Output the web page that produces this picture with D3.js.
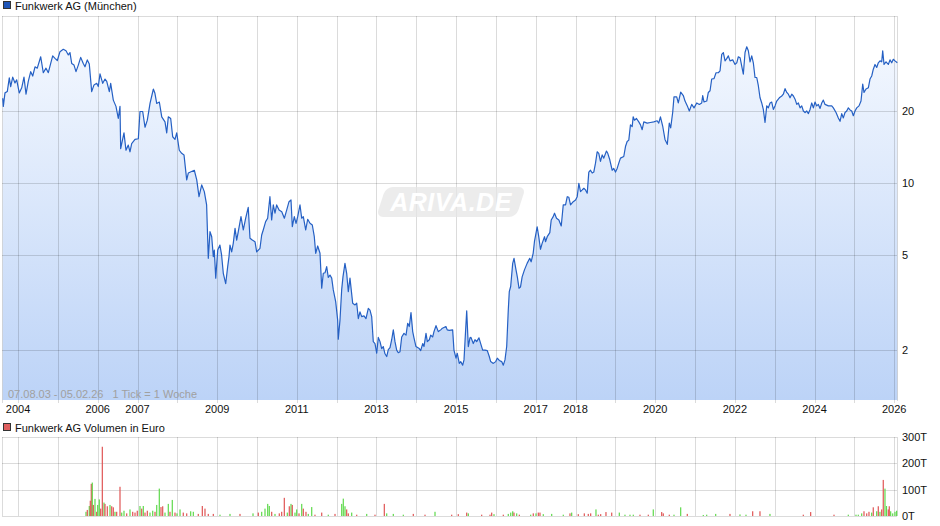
<!DOCTYPE html>
<html>
<head>
<meta charset="utf-8">
<script src="https://cdn.jsdelivr.net/npm/d3@7"></script>
<style>
  body { margin: 0; background: #fff; }
  svg { display: block; font-family: "Liberation Sans", Arial, sans-serif; }
</style>
</head>
<body>
<svg id="chart" width="940" height="526"></svg>
<script>
// weekly close (decimal year, EUR)
var priceT = [2003.615,2003.630,2003.672,2003.730,2003.780,2003.815,2003.866,2003.923,2003.966,2004.031,2004.092,2004.149,2004.200,2004.257,2004.318,2004.368,2004.426,2004.483,2004.569,2004.634,2004.702,2004.760,2004.820,2004.870,2004.928,2004.986,2005.053,2005.136,2005.204,2005.262,2005.304,2005.347,2005.405,2005.455,2005.513,2005.573,2005.638,2005.681,2005.739,2005.789,2005.849,2005.907,2005.975,2006.015,2006.058,2006.126,2006.184,2006.227,2006.292,2006.326,2006.392,2006.459,2006.517,2006.560,2006.577,2006.660,2006.710,2006.768,2006.811,2006.853,2006.937,2007.020,2007.062,2007.130,2007.188,2007.246,2007.314,2007.357,2007.397,2007.437,2007.482,2007.548,2007.608,2007.690,2007.733,2007.773,2007.833,2007.883,2007.941,2007.984,2008.049,2008.109,2008.167,2008.235,2008.275,2008.426,2008.487,2008.544,2008.612,2008.677,2008.735,2008.777,2008.820,2008.863,2008.903,2008.928,2008.964,2009.014,2009.069,2009.111,2009.154,2009.214,2009.264,2009.297,2009.322,2009.364,2009.404,2009.449,2009.490,2009.530,2009.598,2009.656,2009.716,2009.780,2009.824,2009.882,2009.950,2009.992,2010.075,2010.118,2010.157,2010.217,2010.268,2010.325,2010.368,2010.409,2010.452,2010.494,2010.554,2010.622,2010.687,2010.747,2010.804,2010.854,2010.887,2010.937,2010.980,2011.022,2011.080,2011.123,2011.163,2011.223,2011.273,2011.331,2011.389,2011.439,2011.474,2011.524,2011.582,2011.607,2011.625,2011.665,2011.708,2011.750,2011.790,2011.833,2011.876,2011.916,2011.976,2012.026,2012.041,2012.084,2012.126,2012.159,2012.209,2012.252,2012.293,2012.335,2012.403,2012.461,2012.504,2012.544,2012.586,2012.629,2012.687,2012.737,2012.795,2012.837,2012.880,2012.920,2012.963,2013.006,2013.046,2013.089,2013.131,2013.171,2013.214,2013.257,2013.297,2013.340,2013.382,2013.423,2013.465,2013.508,2013.548,2013.591,2013.634,2013.691,2013.742,2013.784,2013.824,2013.867,2013.910,2013.942,2013.992,2014.075,2014.110,2014.161,2014.194,2014.244,2014.277,2014.327,2014.362,2014.412,2014.444,2014.495,2014.553,2014.613,2014.656,2014.744,2014.777,2014.827,2014.913,2014.946,2014.997,2015.029,2015.080,2015.115,2015.165,2015.198,2015.223,2015.266,2015.306,2015.348,2015.373,2015.431,2015.474,2015.516,2015.574,2015.617,2015.667,2015.725,2015.783,2015.833,2015.868,2015.934,2015.994,2016.034,2016.085,2016.145,2016.185,2016.227,2016.270,2016.310,2016.335,2016.370,2016.421,2016.454,2016.496,2016.537,2016.579,2016.616,2016.658,2016.716,2016.783,2016.849,2016.884,2016.935,2016.967,2017.035,2017.075,2017.118,2017.160,2017.220,2017.245,2017.288,2017.353,2017.388,2017.438,2017.471,2017.521,2017.580,2017.640,2017.690,2017.748,2017.791,2017.831,2017.873,2017.941,2017.999,2018.041,2018.082,2018.124,2018.167,2018.207,2018.249,2018.292,2018.332,2018.374,2018.417,2018.457,2018.500,2018.542,2018.582,2018.625,2018.668,2018.708,2018.775,2018.808,2018.859,2018.919,2018.959,2019.002,2019.044,2019.085,2019.127,2019.210,2019.253,2019.295,2019.336,2019.378,2019.421,2019.446,2019.479,2019.529,2019.587,2019.630,2019.672,2019.713,2019.798,2019.880,2019.963,2020.048,2020.088,2020.131,2020.187,2020.245,2020.303,2020.353,2020.388,2020.438,2020.471,2020.539,2020.579,2020.639,2020.705,2020.748,2020.806,2020.856,2020.916,2020.974,2021.042,2021.107,2021.167,2021.192,2021.225,2021.293,2021.333,2021.376,2021.418,2021.476,2021.527,2021.584,2021.627,2021.670,2021.710,2021.753,2021.795,2021.836,2021.878,2021.946,2022.004,2022.047,2022.087,2022.130,2022.172,2022.212,2022.255,2022.298,2022.338,2022.381,2022.423,2022.463,2022.506,2022.549,2022.589,2022.632,2022.674,2022.714,2022.757,2022.800,2022.840,2022.883,2022.925,2022.966,2023.008,2023.051,2023.116,2023.177,2023.217,2023.260,2023.302,2023.343,2023.385,2023.428,2023.469,2023.511,2023.554,2023.594,2023.637,2023.679,2023.720,2023.763,2023.805,2023.846,2023.888,2023.930,2023.971,2024.013,2024.055,2024.096,2024.139,2024.181,2024.221,2024.264,2024.347,2024.432,2024.473,2024.540,2024.598,2024.641,2024.683,2024.723,2024.766,2024.808,2024.849,2024.891,2024.934,2024.974,2025.017,2025.059,2025.117,2025.167,2025.210,2025.242,2025.293,2025.351,2025.393,2025.436,2025.476,2025.519,2025.561,2025.602,2025.644,2025.687,2025.712,2025.745,2025.795,2025.853,2025.895,2025.938,2025.978,2026.021,2026.078];
var priceV = [22.6,20.9,23.8,24.1,27.5,25.3,27.7,26.2,27.0,23.8,25.0,27.7,23.5,26.6,29.2,28.0,30.6,30.2,33.7,28.9,30.2,28.9,31.6,34.0,33.2,32.5,35.4,36.2,35.7,34.3,35.1,31.6,31.1,29.2,31.1,33.5,31.6,30.6,32.7,31.4,24.1,25.7,26.1,25.3,28.6,26.1,27.2,26.6,24.1,26.1,22.2,20.9,18.6,20.9,13.9,16.2,13.7,14.4,13.5,14.6,15.2,15.3,19.9,19.9,17.1,18.3,21.5,23.1,24.7,23.7,21.5,21.8,18.9,18.0,16.2,18.9,18.6,15.6,15.2,16.2,13.7,13.3,13.1,10.3,11.0,11.3,10.3,8.76,9.81,9.20,8.09,4.84,6.26,5.96,4.92,5.24,4.00,5.24,5.50,5.00,4.19,3.79,4.47,4.92,5.50,5.15,5.59,6.46,5.77,6.26,7.23,6.36,7.12,7.91,5.87,5.77,5.68,5.15,5.33,6.06,6.36,6.89,7.12,8.76,7.00,8.09,7.47,8.09,7.71,7.58,7.12,7.71,8.35,8.49,6.56,7.23,6.78,7.23,8.09,7.12,7.23,6.36,7.05,6.78,6.67,5.96,5.08,5.45,5.08,4.19,3.63,4.19,4.21,4.47,4.03,4.12,4.00,3.57,3.19,2.67,2.22,2.67,3.57,4.05,4.61,4.19,3.51,4.00,3.14,3.09,3.14,2.71,2.89,2.76,2.78,2.71,2.99,2.94,2.76,2.17,2.13,1.94,2.26,2.17,2.03,2.07,1.93,1.88,2.01,2.05,2.21,2.43,2.17,2.00,1.95,1.97,2.27,2.35,2.31,2.59,2.51,2.87,2.39,2.25,2.07,2.03,1.99,2.13,2.07,2.35,2.17,2.21,2.31,2.27,2.39,2.53,2.39,2.43,2.47,2.51,2.43,2.42,2.43,2.00,1.85,1.94,1.76,1.79,1.73,1.82,2.17,2.92,2.07,2.25,2.26,2.13,2.21,2.17,2.25,2.13,2.00,2.00,1.99,1.88,1.79,1.76,1.79,1.85,1.81,1.79,1.73,1.82,2.07,2.94,3.51,3.69,4.61,4.84,4.40,4.05,3.63,3.67,4.05,4.33,4.61,4.84,4.68,5.08,5.68,6.56,5.96,5.28,5.59,5.96,5.68,5.96,6.20,7.00,7.23,7.47,7.12,7.00,6.61,8.09,8.09,8.76,8.71,8.09,8.35,8.49,8.76,9.97,9.20,9.35,9.50,9.35,9.06,11.1,11.3,11.0,11.1,12.1,13.5,13.3,12.3,13.1,12.7,13.6,13.3,12.5,11.3,11.5,11.1,11.5,12.1,12.7,12.9,14.2,14.9,15.1,17.5,17.2,18.9,18.3,18.6,18.0,17.5,16.7,18.0,17.8,17.9,18.0,18.2,17.8,18.9,17.3,15.2,14.5,17.8,17.0,19.7,22.9,22.9,21.6,24.0,23.2,22.0,21.0,20.0,21.3,20.6,21.6,21.3,21.6,23.2,21.8,22.0,23.9,24.3,27.2,27.3,28.9,28.9,29.4,34.5,35.1,32.4,33.1,34.0,32.4,32.7,31.3,31.8,33.7,33.4,30.8,28.5,35.1,37.1,35.7,32.1,34.0,31.8,27.6,27.6,25.5,22.7,21.6,20.3,17.9,21.0,20.6,21.6,21.8,20.3,21.0,22.0,22.7,23.1,23.5,24.8,23.9,23.5,22.7,23.5,23.1,22.4,21.3,21.6,20.6,21.0,20.0,19.7,20.0,19.5,20.3,21.6,20.6,21.8,21.0,21.3,20.5,21.6,22.2,21.3,21.0,21.0,20.6,19.7,18.7,18.1,19.5,18.7,19.7,20.0,20.6,20.2,20.0,19.1,20.0,20.6,21.0,22.0,25.9,23.9,24.7,25.0,27.2,28.0,29.9,31.3,30.4,31.8,32.4,32.1,35.7,31.3,32.1,31.3,32.7,31.8,32.9,32.4,31.8];

// weekly turnover in thousand EUR, u = week closed up, d = down
var volT = [2005.706,2005.739,2005.789,2005.814,2005.839,2005.864,2005.890,2005.932,2005.975,2006.000,2006.040,2006.075,2006.116,2006.158,2006.183,2006.241,2006.309,2006.352,2006.392,2006.434,2006.477,2006.560,2006.603,2006.660,2006.728,2006.811,2006.879,2006.937,2006.994,2007.062,2007.105,2007.145,2007.188,2007.246,2007.313,2007.381,2007.439,2007.482,2007.547,2007.589,2007.632,2007.690,2007.773,2007.815,2007.873,2007.941,2007.991,2008.067,2008.149,2008.235,2008.335,2008.401,2008.526,2008.627,2008.694,2008.777,2008.903,2009.071,2009.322,2009.573,2009.900,2010.033,2010.118,2010.201,2010.269,2010.309,2010.369,2010.452,2010.560,2010.620,2010.686,2010.761,2010.811,2010.854,2010.886,2010.954,2010.997,2011.055,2011.123,2011.163,2011.230,2011.288,2011.374,2011.456,2011.625,2011.790,2011.959,2012.127,2012.167,2012.210,2012.252,2012.293,2012.378,2012.504,2012.755,2012.963,2013.197,2013.257,2013.423,2013.674,2013.925,2014.219,2014.470,2014.889,2015.055,2015.266,2015.306,2015.642,2015.851,2015.893,2015.951,2016.185,2016.310,2016.371,2016.421,2016.453,2016.521,2016.587,2016.873,2016.938,2017.006,2017.064,2017.106,2017.189,2017.400,2017.691,2017.859,2017.902,2018.068,2018.219,2018.319,2018.379,2018.512,2018.570,2018.630,2018.763,2018.907,2019.098,2019.240,2019.366,2019.449,2019.617,2019.826,2019.951,2020.162,2020.202,2020.353,2020.471,2020.639,2020.805,2021.207,2021.292,2021.518,2021.877,2022.128,2022.279,2022.447,2022.630,2022.881,2023.718,2023.903,2024.489,2024.848,2025.041,2025.099,2025.184,2025.242,2025.310,2025.367,2025.435,2025.475,2025.561,2025.601,2025.643,2025.686,2025.726,2025.769,2025.807,2025.852,2025.877,2025.912,2025.963,2026.020,2026.062];
var volV = [16,23,38,58,122,127,42,65,16,42,63,28,263,51,46,37,42,37,33,16,16,111,13,20,10,25,16,13,20,38,28,38,13,20,13,20,16,42,104,34,37,13,46,16,61,13,10,25,13,10,18,16,8,38,28,8,8,5,8,8,10,13,16,28,46,38,16,8,10,16,69,13,37,46,42,13,25,10,46,28,16,8,34,5,13,5,8,46,66,37,25,10,13,5,8,5,46,10,8,5,8,5,16,5,7,13,10,5,5,13,7,5,8,13,18,13,10,5,5,10,10,13,13,7,8,5,10,13,7,10,8,10,25,5,7,15,13,13,5,5,5,5,5,25,15,10,5,5,33,8,4,5,8,8,6,5,18,18,8,5,15,5,5,5,5,10,18,10,16,13,33,18,37,16,25,137,104,38,25,37,18,10,16,20];
var volDir = ("ududdududu" + "uddudduddu" + "dduududddu" + "dudduuduud" + "duududuudd" +
              "uuddddduud" + "uduuuududd" + "dududuudud" + "duudduduuu" + "ddududduuu" +
              "dduddduddd" + "uduuududud" + "udduuududd" + "ddudddduuu" + "udduddduud" +
              "uuuduuddud" + "dduuuudddu" + "dududduudd" + "uuuu").split("");

var yearTicks = d3.range(2004, 2027);
var yearLabels = [2004, 2006, 2007, 2009, 2011, 2013, 2015, 2017, 2018, 2020, 2022, 2024, 2026];
var priceTicks = [2, 5, 10, 20];
var volTicks = [0, 100, 200, 300];

var svg = d3.select("#chart");
var left = 2, right = 897;

var x = d3.scaleLinear().domain([2003.597, 2026.096]).range([2, 898]);
var y = d3.scaleLog().domain([1.237, 49.9]).range([400, 16]);
var yv = d3.scaleLinear().domain([0, 300]).range([516, 437]);

var price = priceT.map(function(t, i) { return {t: t, v: priceV[i]}; });
var vols = volT.map(function(t, i) { return {t: t, v: volV[i], up: volDir[i] == "u"}; });

// gradient for the area
var defs = svg.append("defs");
var grad = defs.append("linearGradient").attr("id", "fillGrad")
    .attr("gradientUnits", "userSpaceOnUse")
    .attr("x1", 0).attr("y1", 16).attr("x2", 0).attr("y2", 400);
grad.append("stop").attr("offset", "0%").attr("stop-color", "#f7faff");
grad.append("stop").attr("offset", "100%").attr("stop-color", "#bcd3f7");

// legends
function legend(yy, col, label) {
  svg.append("rect").attr("x", 3.5).attr("y", yy - 8.5).attr("width", 7).attr("height", 7)
    .attr("fill", col).attr("stroke", "#333").attr("stroke-width", 1);
  svg.append("text").attr("x", 15).attr("y", yy).attr("font-size", 11).attr("fill", "#111").text(label);
}
legend(10, "#1f56b8", "Funkwerk AG (München)");
legend(432, "#e06060", "Funkwerk AG Volumen in Euro");

// price panel
var area = d3.area().x(function(d) { return x(d.t); }).y0(400).y1(function(d) { return y(d.v); });
var line = d3.line().x(function(d) { return x(d.t); }).y(function(d) { return y(d.v); });

svg.append("path").datum(price).attr("d", area).attr("fill", "url(#fillGrad)");

var grid = svg.append("g").attr("stroke", "#000").attr("stroke-opacity", 0.14).attr("stroke-width", 1);
grid.selectAll(".vx").data(yearTicks).enter().append("line")
  .attr("x1", function(d) { return Math.round(x(d)) + 0.5; })
  .attr("x2", function(d) { return Math.round(x(d)) + 0.5; })
  .attr("y1", 16).attr("y2", 403);
grid.selectAll(".hy").data(priceTicks).enter().append("line")
  .attr("x1", left).attr("x2", right)
  .attr("y1", function(d) { return Math.round(y(d)) + 0.5; })
  .attr("y2", function(d) { return Math.round(y(d)) + 0.5; });
grid.append("line").attr("x1", left).attr("x2", right).attr("y1", 16.5).attr("y2", 16.5);
grid.append("line").attr("x1", left + 0.5).attr("x2", left + 0.5).attr("y1", 16).attr("y2", 403);
grid.append("line").attr("x1", right + 0.5).attr("x2", right + 0.5).attr("y1", 16).attr("y2", 401);

// watermark
var wm = svg.append("g").attr("transform", "translate(451,202)");
wm.append("rect").attr("x", -70).attr("y", -15).attr("width", 140).attr("height", 30).attr("rx", 7)
  .attr("transform", "skewX(-18)").attr("fill", "#e6e6e6").attr("fill-opacity", 0.75);
wm.append("text").attr("text-anchor", "middle").attr("y", 9).attr("font-size", 25)
  .attr("font-style", "italic").attr("font-weight", "bold").attr("fill", "#fff")
  .attr("letter-spacing", 0.5).text("ARIVA.DE");

svg.append("path").datum(price).attr("d", line).attr("fill", "none")
  .attr("stroke", "#2560c4").attr("stroke-width", 1.2).attr("stroke-linejoin", "round");

svg.append("text").attr("x", 8).attr("y", 398).attr("font-size", 11).attr("fill", "#a0a0a0")
  .attr("xml:space", "preserve").text("07.08.03 - 05.02.26   1 Tick = 1 Woche");

// x labels
svg.selectAll(".xl").data(yearLabels).enter().append("text")
  .attr("x", function(d) { return x(d); }).attr("y", 413)
  .attr("text-anchor", "middle").attr("font-size", 11).attr("fill", "#111").text(String);

// y labels
svg.selectAll(".yl").data(priceTicks).enter().append("text")
  .attr("x", 902).attr("y", function(d) { return y(d) + 4; })
  .attr("font-size", 11).attr("fill", "#111").text(String);

// volume panel
var vg = svg.append("g").attr("stroke", "#000").attr("stroke-opacity", 0.14).attr("stroke-width", 1);
vg.selectAll(".vx").data(yearTicks).enter().append("line")
  .attr("x1", function(d) { return Math.round(x(d)) + 0.5; })
  .attr("x2", function(d) { return Math.round(x(d)) + 0.5; })
  .attr("y1", 437).attr("y2", 516);
vg.selectAll(".hy").data(volTicks).enter().append("line")
  .attr("x1", left).attr("x2", right)
  .attr("y1", function(d) { return Math.round(yv(d)) + 0.5; })
  .attr("y2", function(d) { return Math.round(yv(d)) + 0.5; });
vg.append("line").attr("x1", left + 0.5).attr("x2", left + 0.5).attr("y1", 437).attr("y2", 516);
vg.append("line").attr("x1", right + 0.5).attr("x2", right + 0.5).attr("y1", 437).attr("y2", 516);

svg.selectAll(".vb").data(vols).enter().append("rect")
  .attr("x", function(d) { return x(d.t) - 0.6; })
  .attr("width", 1.2)
  .attr("y", function(d) { return yv(d.v); })
  .attr("height", function(d) { return yv(0) - yv(d.v); })
  .attr("fill", function(d) { return d.up ? "#5fd94c" : "#e05555"; });

svg.selectAll(".vl").data(volTicks).enter().append("text")
  .attr("x", 902).attr("y", function(d) { return yv(d) + 4; })
  .attr("font-size", 11).attr("fill", "#111").text(function(d) { return d + "T"; });
</script>
</body>
</html>
